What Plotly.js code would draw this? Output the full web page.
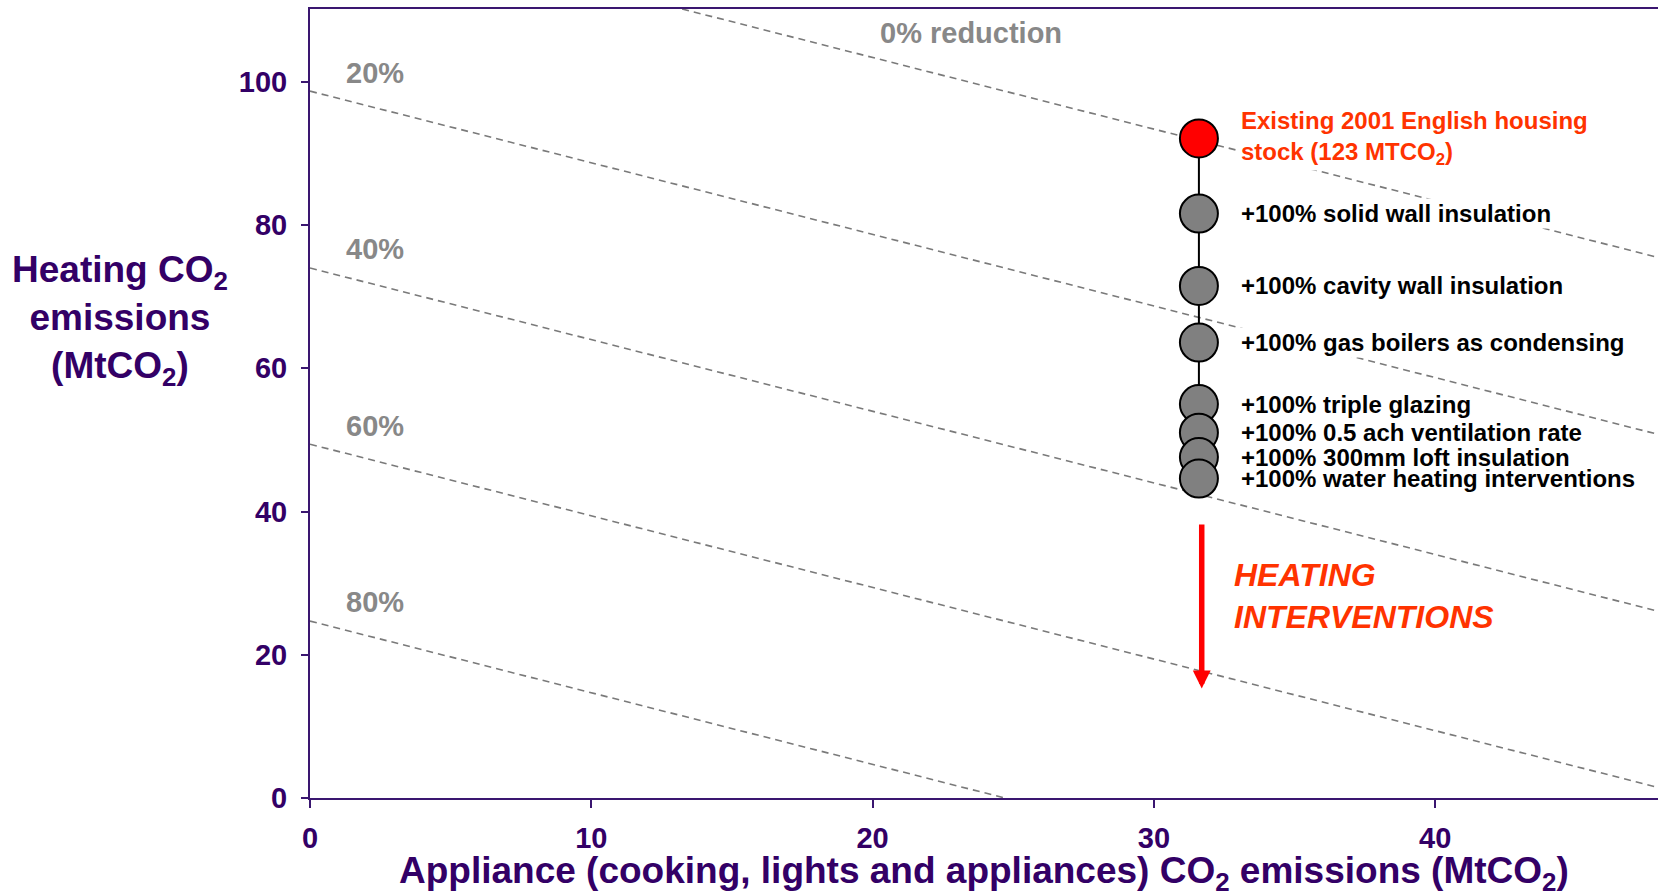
<!DOCTYPE html>
<html><head><meta charset="utf-8">
<script src="https://cdn.plot.ly/plotly-3.0.1.min.js"></script>
<style>html,body{margin:0;padding:0;background:#fff}#chart{width:1658px;height:894px}</style>
</head><body><div id="chart"></div>
<script>
// Reduction reference lines (appliance + heating = constant total)
const reductionLabels = ['0% reduction', '20%', '40%', '60%', '80%'];
const reductionTotals = [123.4, 98.7, 74.0, 49.4, 24.7];
const reductionLabelX = [23.5, 1.2, 1.2, 1.2, 1.2];
const reductionLabelY = [106.8, 101.2, 76.6, 51.9, 27.3];

// Intervention sequence
const applianceX = 31.6;
const interventionLabels = [
  'Existing 2001 English housing<br>stock (123 MTCO<sub>2</sub>)',
  '+100% solid wall insulation',
  '+100% cavity wall insulation',
  '+100% gas boilers as condensing',
  '+100% triple glazing',
  '+100% 0.5 ach ventilation rate',
  '+100% 300mm loft insulation',
  '+100% water heating interventions'
];
const heatingValues = [92.1, 81.6, 71.5, 63.6, 55.0, 51.0, 47.6, 44.6];
const markerColors = ['#ff0000', '#808080', '#808080', '#808080', '#808080', '#808080', '#808080', '#808080'];

// Heating interventions arrow
const arrowX = 31.7;
const arrowStartY = 38.4;
const arrowEndY = 15.3;
const arrowText = 'HEATING<br>INTERVENTIONS';
const arrowTextY = 28.2;

const xTicks = [0, 10, 20, 30, 40];
const yTicks = [0, 20, 40, 60, 80, 100];

const FONT = 'Arial, "Liberation Sans", Helvetica, sans-serif';
const PURPLE = '#330066';
const AXISLINE = '#3a1670';
const ORANGE = '#ff3300';
const GREY = '#888888';

const traces = [];
reductionTotals.forEach(function (t, i) {
  traces.push({
    type: 'scatter', mode: 'lines',
    x: [0, t], y: [t, 0],
    line: {color: '#7a7a7a', width: 1.6, dash: '7px,5px'},
    hoverinfo: 'skip', showlegend: false
  });
});
traces.push({
  type: 'scatter', mode: 'lines+markers',
  x: heatingValues.map(function () { return applianceX; }),
  y: heatingValues,
  line: {color: '#000000', width: 2},
  marker: {size: 38, color: markerColors, line: {color: '#000000', width: 2}},
  showlegend: false
});

const annotations = [];
reductionLabels.forEach(function (lab, i) {
  annotations.push({
    x: reductionLabelX[i], y: reductionLabelY[i], xref: 'x', yref: 'y',
    text: lab, showarrow: false,
    xanchor: i === 0 ? 'center' : 'left', yanchor: 'middle',
    font: {family: FONT, size: 29, color: GREY, weight: 'bold'}
  });
});
interventionLabels.forEach(function (lab, i) {
  annotations.push({
    x: applianceX, y: heatingValues[i], xref: 'x', yref: 'y',
    text: lab, showarrow: false, xanchor: 'left', yanchor: 'middle', align: 'left',
    xshift: 40, bgcolor: i < 5 ? '#ffffff' : 'rgba(0,0,0,0)', borderpad: 1,
    font: {family: FONT, size: 24, color: i === 0 ? ORANGE : '#000000', weight: 'bold'}
  });
});
annotations.push({
  x: arrowX, y: arrowEndY, ax: arrowX, ay: arrowStartY, xref: 'x', yref: 'y', axref: 'x', ayref: 'y',
  text: '', showarrow: true, arrowhead: 2, arrowsize: 0.65, arrowwidth: 5.5, arrowcolor: '#ff0000', standoff: 0
});
annotations.push({
  x: arrowX, y: arrowTextY, xref: 'x', yref: 'y', text: arrowText, showarrow: false,
  xanchor: 'left', yanchor: 'middle', align: 'left', xshift: 30,
  font: {family: FONT, size: 32, color: ORANGE, weight: 'bold', style: 'italic'}
});
annotations.push({
  x: -0.141, y: 66.7, xref: 'paper', yref: 'y', showarrow: false,
  text: 'Heating CO<sub>2</sub><br>emissions<br>(MtCO<sub>2</sub>)',
  xanchor: 'center', yanchor: 'middle', align: 'center',
  font: {family: FONT, size: 37, color: PURPLE, weight: 'bold'}
});
annotations.push({
  x: 0.5, y: -0.095, xref: 'paper', yref: 'paper', showarrow: false,
  text: 'Appliance (cooking, lights and appliances) CO<sub>2</sub> emissions (MtCO<sub>2</sub>)',
  xanchor: 'center', yanchor: 'middle',
  font: {family: FONT, size: 37, color: PURPLE, weight: 'bold'}
});

const layout = {
  width: 1658, height: 894,
  margin: {l: 310, r: 0, t: 8.5, b: 95.7, pad: 0},
  paper_bgcolor: '#ffffff', plot_bgcolor: '#ffffff',
  showlegend: false,
  font: {family: FONT},
  xaxis: {
    range: [0, 47.92], tickvals: xTicks, ticktext: xTicks.map(String),
    showgrid: false, zeroline: false, showline: true, linecolor: AXISLINE, linewidth: 2,
    mirror: true, ticks: 'outside', ticklen: 8, tickwidth: 2, tickcolor: AXISLINE,
    ticklabelstandoff: 5,
    tickfont: {family: FONT, size: 29, color: PURPLE, weight: 'bold'}
  },
  yaxis: {
    range: [0, 110.17], tickvals: yTicks, ticktext: yTicks.map(String),
    showgrid: false, zeroline: false, showline: true, linecolor: AXISLINE, linewidth: 2,
    ticks: 'outside', ticklen: 7, tickwidth: 2, tickcolor: AXISLINE,
    ticklabelstandoff: 8,
    tickfont: {family: FONT, size: 29, color: PURPLE, weight: 'bold'}
  },
  annotations: annotations
};

Plotly.newPlot('chart', traces, layout, {displayModeBar: false, responsive: false});
</script>
</body></html>
